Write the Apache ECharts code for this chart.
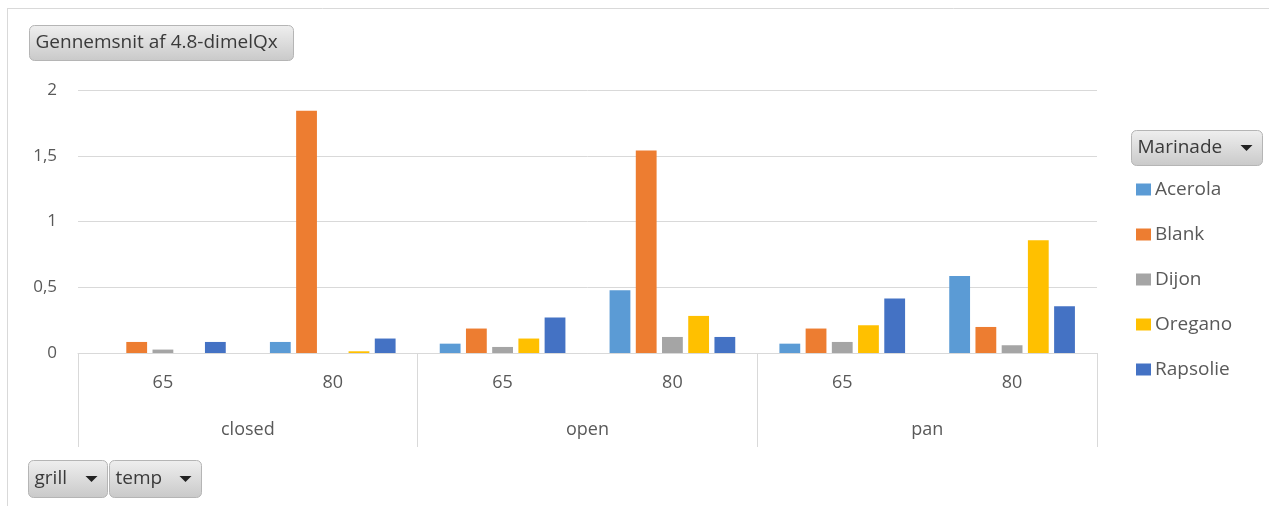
<!DOCTYPE html>
<html>
<head>
<meta charset="utf-8">
<script src="https://cdn.jsdelivr.net/npm/echarts@6/dist/echarts.min.js"></script>
<style>
html,body{margin:0;padding:0;background:#fff;}
#c{width:1269px;height:506px;}
</style>
</head>
<body>
<div id="c"></div>
<script>
const tempLabels = ['65', '80', '65', '80', '65', '80'];
const grillLabels = ['closed', 'open', 'pan'];
const seriesNames = ['Acerola', 'Blank', 'Dijon', 'Oregano', 'Rapsolie'];
const acerola  = [null, 0.084, 0.071, 0.478, 0.071, 0.586];
const blank    = [0.084, 1.843, 0.186, 1.539, 0.186, 0.198];
const dijon    = [0.026, null, 0.046, 0.122, 0.084, 0.059];
const oregano  = [null, 0.013, 0.110, 0.282, 0.211, 0.858];
const rapsolie = [0.084, 0.110, 0.270, 0.122, 0.414, 0.356];
const yTicks = [0, 0.5, 1, 1.5, 2];
const colors = ['#5B9BD5', '#ED7D31', '#A5A5A5', '#FFC000', '#4472C4'];
const allValues = [acerola, blank, dijon, oregano, rapsolie];

const FONT = 'Open Sans';
const txtColor = '#595959';
const lineColor = '#d9d9d9';

function button(x, y, w, h, label, arrow) {
  const children = [
    { type: 'rect', shape: { x: 0, y: 0, width: w, height: h, r: 5 },
      style: { fill: new echarts.graphic.LinearGradient(0, 0, 0, 1, [
        { offset: 0, color: '#efefef' }, { offset: 1, color: '#c9c9c9' }]),
        stroke: '#b5b5b5', lineWidth: 1 } },
    { type: 'text', x: 6, y: h / 2,
      style: { text: label, fill: '#3a3a3a', font: '19px "' + FONT + '"', textVerticalAlign: 'middle', textAlign: 'left' } }
  ];
  if (arrow) {
    children.push({ type: 'polygon', shape: { points: [[w - 22, h / 2 - 3], [w - 10, h / 2 - 3], [w - 16, h / 2 + 3]] },
      style: { fill: '#222' } });
  }
  return { type: 'group', x: x, y: y, children: children };
}

const chart = echarts.init(document.getElementById('c'), null, { renderer: 'canvas' });
chart.setOption({
  animation: false,
  backgroundColor: '#fff',
  textStyle: { fontFamily: FONT },
  grid: { left: 78, right: 172, top: 90, bottom: 153, containLabel: false },
  legend: {
    orient: 'vertical', left: 1136, top: 180, padding: 0,
    itemWidth: 15, itemHeight: 12, itemGap: 26,
    icon: 'rect',
    textStyle: { fontSize: 19, color: txtColor, fontFamily: FONT, padding: [0, 0, 0, -1] },
    data: seriesNames
  },
  xAxis: [
    {
      type: 'category', data: tempLabels, position: 'bottom',
      axisLine: { show: true, lineStyle: { color: lineColor } },
      axisTick: { show: false },
      axisLabel: { fontSize: 18, color: txtColor, margin: 21, fontFamily: FONT }
    },
    {
      type: 'category', data: grillLabels, position: 'bottom',
      axisLine: { show: false },
      axisTick: { show: true, length: 94, interval: 0, lineStyle: { color: lineColor } },
      axisLabel: { fontSize: 18, color: txtColor, margin: 68, fontFamily: FONT, interval: 0 }
    }
  ],
  yAxis: {
    type: 'value', min: 0, max: 2, interval: 0.5,
    axisLine: { show: false }, axisTick: { show: false },
    splitLine: { lineStyle: { color: lineColor } },
    axisLabel: { fontSize: 17, color: txtColor, margin: 21, fontFamily: FONT,
      formatter: v => (yTicks.indexOf(v) >= 0 ? String(v).replace('.', ',') : '') }
  },
  series: seriesNames.map((n, i) => ({
    name: n, type: 'bar', xAxisIndex: 0, data: allValues[i],
    itemStyle: { color: colors[i] },
    barGap: '26%', barCategoryGap: '26%'
  })),
  graphic: [
    { type: 'line', shape: { x1: 7, y1: 8.5, x2: 1269, y2: 8.5 }, style: { stroke: lineColor, lineWidth: 1 } },
    { type: 'line', shape: { x1: 7.5, y1: 8, x2: 7.5, y2: 506 }, style: { stroke: lineColor, lineWidth: 1 } },
    button(29.5, 25.5, 264, 35, 'Gennemsnit af 4.8-dimelQx', false),
    button(1131.5, 130.5, 131, 35, 'Marinade', true),
    button(28.5, 460.5, 79, 37, 'grill', true),
    button(109.5, 460.5, 92, 37, 'temp', true)
  ]
});
</script>
</body>
</html>
